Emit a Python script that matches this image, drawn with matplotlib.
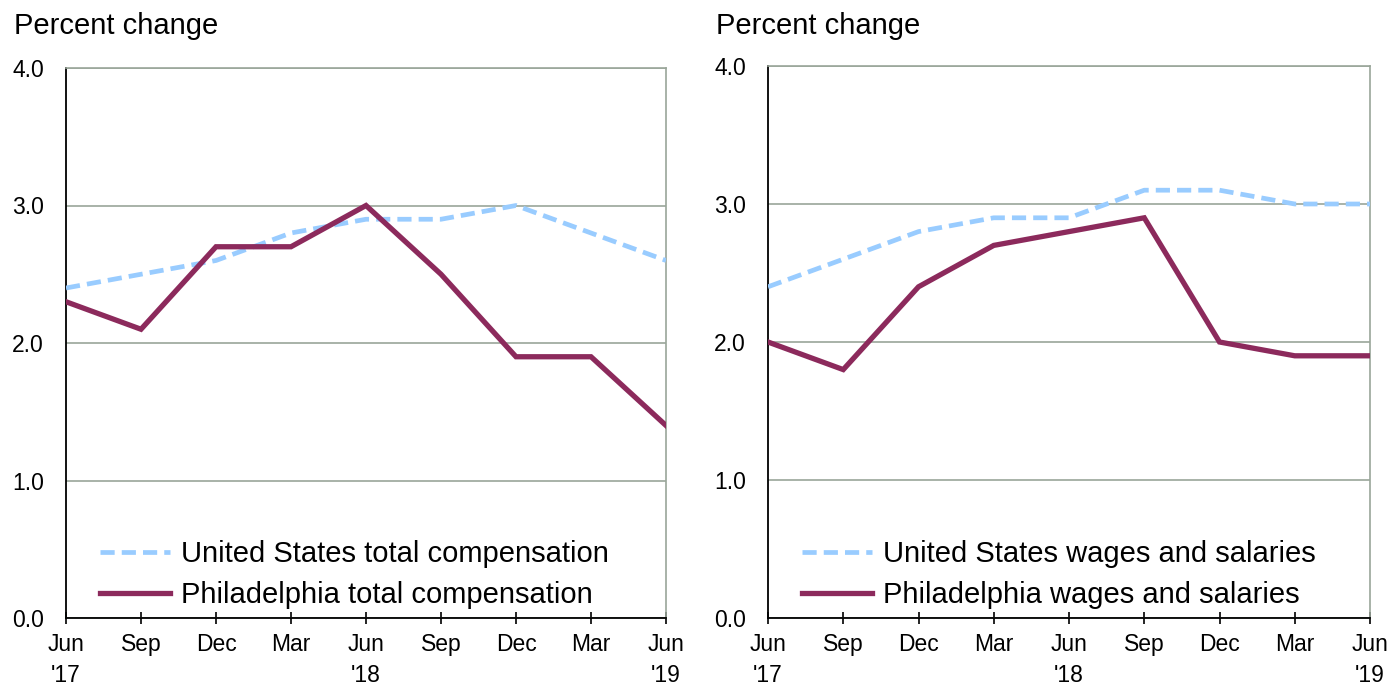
import matplotlib
matplotlib.use("Agg")
import matplotlib.pyplot as plt

plt.rcParams['font.family'] = ['Liberation Sans', 'DejaVu Sans']

quarters = ["Jun\n'17", "Sep", "Dec", "Mar", "Jun\n'18", "Sep", "Dec", "Mar", "Jun\n'19"]

us_total = [2.4, 2.5, 2.6, 2.8, 2.9, 2.9, 3.0, 2.8, 2.6]
phl_total = [2.3, 2.1, 2.7, 2.7, 3.0, 2.5, 1.9, 1.9, 1.4]

us_wages = [2.4, 2.6, 2.8, 2.9, 2.9, 3.1, 3.1, 3.0, 3.0]
phl_wages = [2.0, 1.8, 2.4, 2.7, 2.8, 2.9, 2.0, 1.9, 1.9]

US_COLOR = '#99ccff'
PHL_COLOR = '#8c2a5c'
GRID_COLOR = '#9aa69a'

fig = plt.figure(figsize=(13.9, 6.84), dpi=100)
ax1 = fig.add_axes([66 / 1390, 1 - 618 / 684, 600 / 1390, 550 / 684])
ax2 = fig.add_axes([768 / 1390, 1 - 618 / 684, 602 / 1390, 552 / 684])


def draw_panel(ax, us, phl, us_label, phl_label, title_x):
    x = range(len(quarters))
    ax.plot(x, us, color=US_COLOR, lw=3.4, ls=(0, (3, 1.5)), label=us_label, zorder=3)
    ax.plot(x, phl, color=PHL_COLOR, lw=3.8, label=phl_label, zorder=4,
            solid_joinstyle='miter')
    ax.set_xlim(0, len(quarters) - 1)
    ax.set_ylim(0, 4)
    ax.set_yticks([0, 1, 2, 3, 4])
    ax.set_yticklabels(['0.0', '1.0', '2.0', '3.0', '4.0'])
    ax.set_xticks(list(x))
    ax.set_xticklabels(quarters, linespacing=1.45)
    ax.grid(axis='y', color=GRID_COLOR, lw=1.2)
    ax.set_axisbelow(True)
    for side in ('top', 'right'):
        ax.spines[side].set_color(GRID_COLOR)
        ax.spines[side].set_linewidth(1.2)
    for side in ('left', 'bottom'):
        ax.spines[side].set_color('black')
        ax.spines[side].set_linewidth(1.3)
    ax.tick_params(axis='y', length=0, pad=16, labelsize=16.5)
    ax.tick_params(axis='x', direction='inout', length=9, width=1.2, pad=6,
                   labelsize=16.5)
    ax.legend(loc='lower left', bbox_to_anchor=(0.027, -0.016), frameon=False,
              fontsize=21, handlelength=2.4, handletextpad=0.4,
              labelspacing=0.45, borderaxespad=0.2)
    fig.text(title_x, 1 - 26 / 684, 'Percent change', fontsize=21,
             ha='left', va='center')


draw_panel(ax1, us_total, phl_total, 'United States total compensation',
           'Philadelphia total compensation', 14 / 1390)
draw_panel(ax2, us_wages, phl_wages, 'United States wages and salaries',
           'Philadelphia wages and salaries', 716 / 1390)

fig.savefig('out.png', dpi=100)
